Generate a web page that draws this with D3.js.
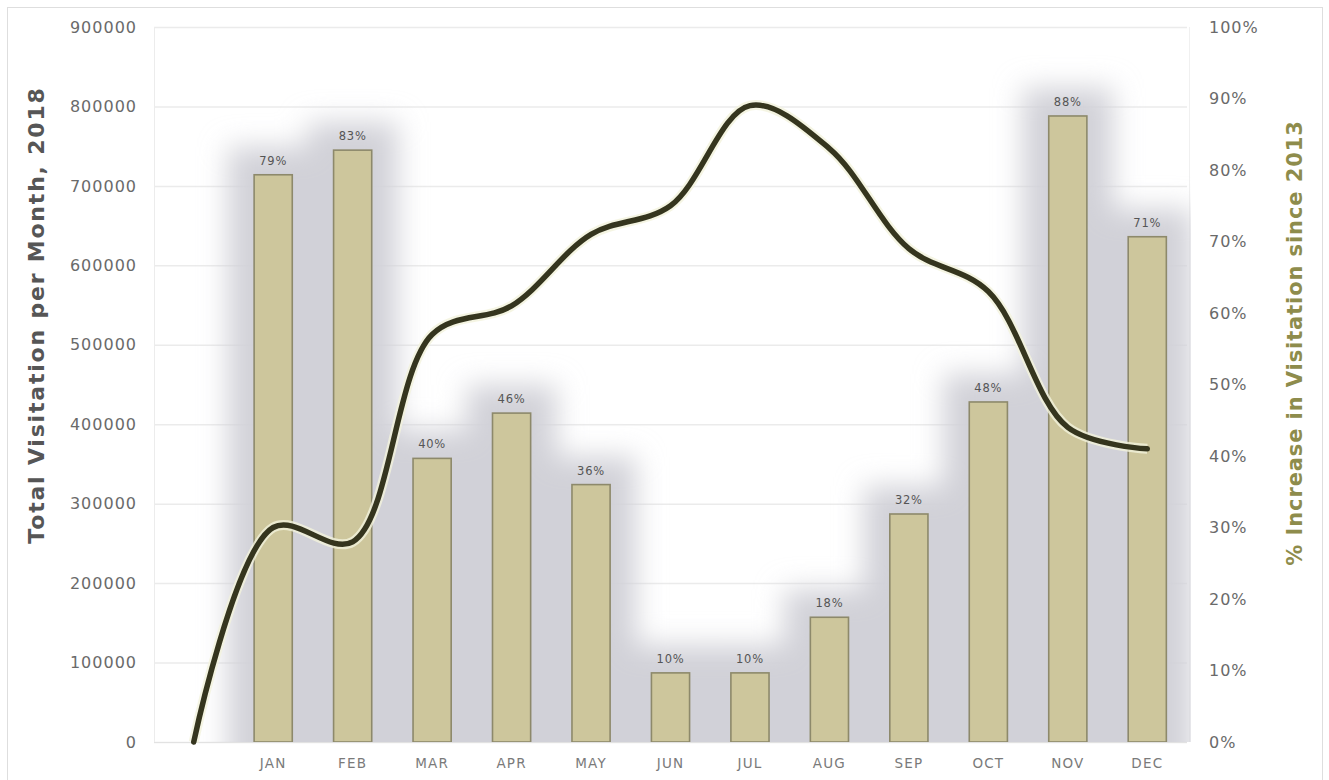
<!DOCTYPE html>
<html><head><meta charset="utf-8">
<script src="https://cdn.jsdelivr.net/npm/d3@7"></script>
<style>body{margin:0;background:#fff}svg{display:block}</style>
</head><body>
<svg id="chart" width="1329" height="780"></svg>
<script>
const months = ["JAN","FEB","MAR","APR","MAY","JUN","JUL","AUG","SEP","OCT","NOV","DEC"];
const visitation = [714000,745000,357000,414000,324000,87000,87000,157000,287000,428000,788000,636000];
const barLabels = ["79%","83%","40%","46%","36%","10%","10%","18%","32%","48%","88%","71%"];
const lineCats = ["", ...months];
const pctIncrease = [0,30,28,57,61,71,75,89,83,69,63,44,41];
const leftTicks = [0,100000,200000,300000,400000,500000,600000,700000,800000,900000];
const rightTicks = [0,10,20,30,40,50,60,70,80,90,100];

const svg = d3.select("#chart");
const L = 154, R = 1187, T = 27, B = 742;

svg.append("rect").attr("x",7.5).attr("y",7.5).attr("width",1315).attr("height",800)
  .attr("fill","#fff").attr("stroke","#dedede");

const x = d3.scaleBand().domain(lineCats).range([L,R]).padding(0);
const y = d3.scaleLinear().domain([0,900000]).range([B,T]);
const y2 = d3.scaleLinear().domain([0,100]).range([B,T]);

const defs = svg.append("defs");
defs.append("filter").attr("id","blur").attr("x","-50%").attr("y","-50%").attr("width","200%").attr("height","200%")
  .append("feGaussianBlur").attr("stdDeviation",14);
defs.append("clipPath").attr("id","plotclip").append("rect")
  .attr("x",L).attr("y",0).attr("width",R-L+4).attr("height",B);

// gridlines
svg.append("g").selectAll("line").data(leftTicks).join("line")
  .attr("x1",L).attr("x2",R).attr("y1",d=>y(d)+0.5).attr("y2",d=>y(d)+0.5)
  .attr("stroke","#ebebeb").attr("stroke-width",1.5);
svg.append("line").attr("x1",L+0.5).attr("x2",L+0.5).attr("y1",T).attr("y2",B).attr("stroke","#ececec");
svg.append("line").attr("x1",R+2.5).attr("x2",R+2.5).attr("y1",T).attr("y2",B).attr("stroke","#f0f0f0");

const bw = x.bandwidth()*0.48;
const cx = d => x(d) + x.bandwidth()/2;

// shadows
svg.append("g").attr("clip-path","url(#plotclip)")
  .append("g").attr("filter","url(#blur)")
  .selectAll("rect").data(months).join("rect")
  .attr("x",(d)=>cx(d)-bw/2-26)
  .attr("width",bw+52)
  .attr("y",(d,i)=>y(visitation[i])-28)
  .attr("height",(d,i)=>B-y(visitation[i])+60)
  .attr("fill","#d1d1d8");

// bars
svg.append("g").selectAll("rect").data(months).join("rect")
  .attr("x",d=>cx(d)-bw/2)
  .attr("width",bw)
  .attr("y",(d,i)=>y(visitation[i]))
  .attr("height",(d,i)=>B-y(visitation[i]))
  .attr("fill","#cdc69c").attr("stroke","#8d896b").attr("stroke-width",1.6);

// bar labels
svg.append("g").selectAll("text").data(months).join("text")
  .attr("x",d=>cx(d)).attr("y",(d,i)=>y(visitation[i])-10)
  .attr("text-anchor","middle").attr("font-family","DejaVu Sans").attr("font-size",11.5)
  .attr("letter-spacing",0.8).attr("fill","#555")
  .text((d,i)=>barLabels[i]);

// baseline
svg.append("line").attr("x1",L).attr("x2",R).attr("y1",B+0.5).attr("y2",B+0.5).attr("stroke","#e2e2e2");

// line
const line = d3.line().x((d,i)=>cx(lineCats[i])).y(d=>y2(d)).curve(d3.curveCatmullRom.alpha(0.5));
svg.append("path").datum(pctIncrease).attr("d",line).attr("fill","none")
  .attr("stroke","#f3f2dc").attr("stroke-width",10).attr("opacity",0.8);
svg.append("path").datum(pctIncrease).attr("d",line).attr("fill","none")
  .attr("stroke","#35351e").attr("stroke-width",5.5).attr("stroke-linecap","round");

// left axis
const la = d3.axisLeft(y).tickValues(leftTicks).tickSize(0).tickPadding(0).tickFormat(d3.format("d"));
const gl = svg.append("g").attr("transform",`translate(137,0)`).call(la);
gl.select(".domain").remove();
gl.selectAll("text").attr("font-family","DejaVu Sans").attr("font-size",16).attr("letter-spacing",1)
  .attr("fill","#6a6a6a");

// right axis
const ra = d3.axisRight(y2).tickValues(rightTicks).tickSize(0).tickPadding(0).tickFormat(d=>d+"%");
const gr = svg.append("g").attr("transform",`translate(1209,0)`).call(ra);
gr.select(".domain").remove();
gr.selectAll("text").attr("font-family","DejaVu Sans").attr("font-size",16).attr("letter-spacing",1)
  .attr("fill","#6a6a6a");

// x axis
const xa = d3.axisBottom(x).tickSize(0).tickPadding(0);
const gx = svg.append("g").attr("transform",`translate(0,758)`).call(xa);
gx.select(".domain").remove();
gx.selectAll("text").attr("font-family","DejaVu Sans").attr("font-size",13.5).attr("letter-spacing",1.2)
  .attr("fill","#7a7a7a");

// titles
svg.append("text").attr("transform","translate(44,315) rotate(-90)")
  .attr("text-anchor","middle").attr("font-family","DejaVu Sans").attr("font-weight","bold")
  .attr("font-size",22).attr("letter-spacing",1.8).attr("fill","#565656").text("Total Visitation per Month, 2018");
svg.append("text").attr("transform","translate(1302,343) rotate(-90)")
  .attr("text-anchor","middle").attr("font-family","DejaVu Sans").attr("font-weight","bold")
  .attr("font-size",21).attr("letter-spacing",0.9).attr("fill","#8e8c4c").text("% Increase in Visitation since 2013");
</script>
</body></html>
